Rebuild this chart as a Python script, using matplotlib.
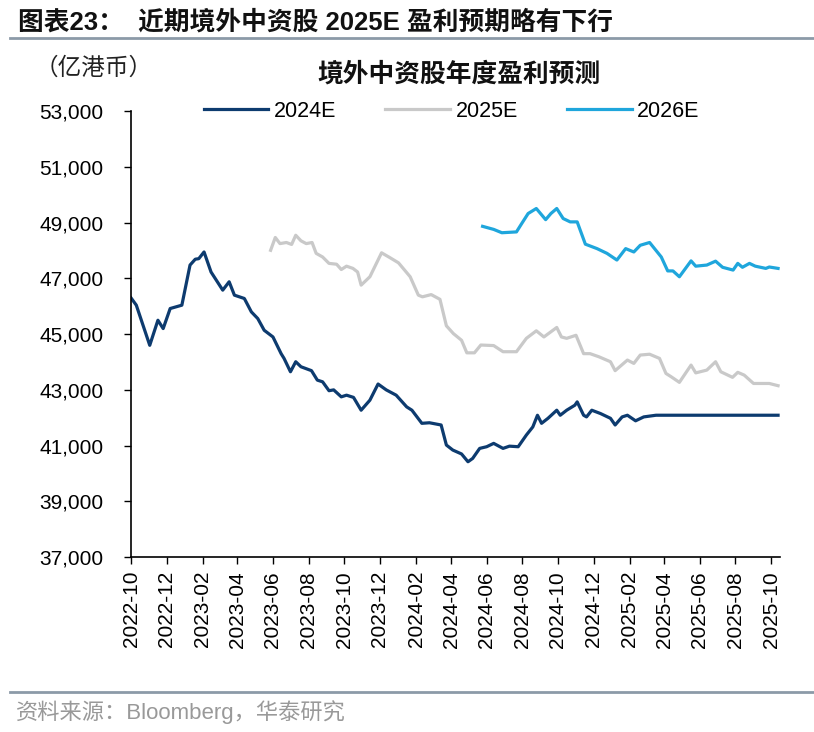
import numpy as np
import pandas as pd
import matplotlib
matplotlib.use("Agg")
import matplotlib.pyplot as plt
import matplotlib.dates as mdates
from matplotlib.ticker import FuncFormatter

plt.rcParams['font.family'] = ['Liberation Sans', 'Noto Sans CJK SC']

# 2024E 盈利预测 (亿港币)
d_2024 = ["2022-10-01", "2022-10-10", "2022-11-02", "2022-11-16", "2022-11-25", "2022-12-07",
          "2022-12-27", "2023-01-10", "2023-01-19", "2023-01-25", "2023-02-03", "2023-02-15",
          "2023-03-07", "2023-03-18", "2023-03-27", "2023-04-13", "2023-04-25", "2023-05-06",
          "2023-05-17", "2023-06-01", "2023-06-15", "2023-06-20", "2023-07-01", "2023-07-10",
          "2023-07-19", "2023-08-06", "2023-08-16", "2023-08-25", "2023-09-05", "2023-09-13",
          "2023-09-26", "2023-10-05", "2023-10-17", "2023-10-30", "2023-11-14", "2023-11-28",
          "2023-12-12", "2023-12-29", "2024-01-16", "2024-01-25", "2024-02-11", "2024-02-24",
          "2024-03-15", "2024-03-24", "2024-04-04", "2024-04-19", "2024-04-30", "2024-05-08",
          "2024-05-20", "2024-06-01", "2024-06-13", "2024-06-29", "2024-07-10", "2024-07-25",
          "2024-08-08", "2024-08-19", "2024-08-27", "2024-09-03", "2024-09-14", "2024-09-29",
          "2024-10-05", "2024-10-16", "2024-10-30", "2024-11-03", "2024-11-14", "2024-11-19",
          "2024-11-28", "2024-12-13", "2024-12-30", "2025-01-07", "2025-01-19", "2025-01-28",
          "2025-02-11", "2025-02-25", "2025-03-18", "2025-10-13"]
v_2024 = [46300, 46040, 44600, 45500, 45200, 45920,
          46040, 47480, 47690, 47710, 47950, 47230,
          46580, 46880, 46400, 46280, 45800, 45560,
          45140, 44900, 44300, 44130, 43650, 44010,
          43830, 43690, 43350, 43290, 42970, 43000,
          42750, 42810, 42730, 42270, 42630, 43210,
          43000, 42810, 42390, 42270, 41800, 41820,
          41740, 41020, 40840, 40700, 40420, 40540,
          40900, 40960, 41080, 40900, 40980, 40960,
          41380, 41670, 42090, 41800, 41980, 42270,
          42090, 42270, 42450, 42570, 42090, 42030,
          42270, 42150, 41980, 41740, 42030, 42090,
          41890, 42030, 42090, 42090]

# 2025E
d_2025 = ["2023-05-28", "2023-06-05", "2023-06-13", "2023-06-24", "2023-07-03", "2023-07-10",
          "2023-07-19", "2023-07-28", "2023-08-07", "2023-08-14", "2023-08-25", "2023-09-05",
          "2023-09-18", "2023-09-26", "2023-10-05", "2023-10-16", "2023-10-24", "2023-10-30",
          "2023-11-14", "2023-12-04", "2023-12-18", "2024-01-02", "2024-01-22", "2024-02-05",
          "2024-02-12", "2024-02-27", "2024-03-13", "2024-03-24", "2024-04-05", "2024-04-19",
          "2024-04-28", "2024-05-11", "2024-05-22", "2024-06-13", "2024-06-29", "2024-07-22",
          "2024-08-08", "2024-08-25", "2024-09-07", "2024-09-29", "2024-10-07", "2024-10-16",
          "2024-11-01", "2024-11-14", "2024-11-25", "2024-12-10", "2024-12-30", "2025-01-07",
          "2025-01-28", "2025-02-08", "2025-02-19", "2025-03-07", "2025-03-24", "2025-04-04",
          "2025-04-13", "2025-04-27", "2025-05-17", "2025-05-25", "2025-06-13", "2025-06-28",
          "2025-07-07", "2025-07-27", "2025-08-05", "2025-08-16", "2025-09-01", "2025-09-28",
          "2025-10-13"]
v_2025 = [48010, 48470, 48250, 48290, 48220, 48550,
          48350, 48250, 48290, 47900, 47770, 47540,
          47510, 47320, 47440, 47360, 47230, 46760,
          47060, 47920, 47750, 47560, 47060, 46400,
          46340, 46420, 46250, 45300, 45020, 44780,
          44330, 44330, 44610, 44590, 44370, 44370,
          44850, 45120, 44900, 45240, 44900, 44850,
          44960, 44300, 44300, 44190, 44010, 43690,
          44070, 43950, 44250, 44280, 44130, 43590,
          43470, 43270, 43890, 43610, 43710, 44010,
          43650, 43450, 43630, 43530, 43230, 43230,
          43150]

# 2026E
d_2026 = ["2024-05-25", "2024-06-13", "2024-06-27", "2024-07-22", "2024-07-31", "2024-08-11",
          "2024-08-25", "2024-09-10", "2024-09-19", "2024-09-29", "2024-10-10", "2024-10-22",
          "2024-11-03", "2024-11-17", "2024-12-07", "2024-12-24", "2025-01-10", "2025-01-25",
          "2025-02-08", "2025-02-19", "2025-03-07", "2025-03-27", "2025-04-07", "2025-04-16",
          "2025-04-27", "2025-05-17", "2025-05-25", "2025-06-13", "2025-06-28", "2025-07-10",
          "2025-07-28", "2025-08-05", "2025-08-13", "2025-08-25", "2025-09-04", "2025-09-22",
          "2025-09-28", "2025-10-13"]
v_2026 = [48870, 48760, 48640, 48670, 48970, 49330,
          49510, 49110, 49330, 49510, 49150, 49030,
          49030, 48230, 48070, 47900, 47660, 48070,
          47950, 48190, 48290, 47770, 47270, 47270,
          47060, 47630, 47440, 47480, 47620, 47400,
          47300, 47540, 47400, 47540, 47440, 47360,
          47410, 47360]

fig = plt.figure(figsize=(8.14, 7.32), dpi=100)
ax = fig.add_axes([0.161, 0.239, 0.797, 0.609])

ax.plot(pd.to_datetime(d_2024), v_2024, color='#0d3b6f', lw=2.3, label='2024E')
ax.plot(pd.to_datetime(d_2025), v_2025, color='#c9c9c9', lw=2.3, label='2025E')
ax.plot(pd.to_datetime(d_2026), v_2026, color='#1fa6dc', lw=2.3, label='2026E')

ax.set_ylim(37000, 53000)
ax.set_yticks(np.arange(37000, 53001, 2000))
ax.yaxis.set_major_formatter(FuncFormatter(lambda v, p: f"{int(v):,}"))
ax.set_xlim(pd.Timestamp("2022-10-01"), pd.Timestamp("2025-10-16"))
ax.set_xticks(pd.date_range("2022-10-01", "2025-10-01", freq="2MS"))
ax.xaxis.set_major_formatter(mdates.DateFormatter('%Y-%m'))
ax.tick_params(axis='both', labelsize=15, length=5, width=1, color='black')
ax.tick_params(axis='y', pad=15)
ax.tick_params(axis='x', rotation=90, pad=5)
for s in ['top', 'right']:
    ax.spines[s].set_visible(False)
ax.spines['left'].set_linewidth(1.2)
ax.spines['bottom'].set_linewidth(1.2)

ax.legend(loc='center', bbox_to_anchor=(0.494, 1.0), ncol=3, frameon=False, fontsize=15.5,
          handlelength=3.0, handletextpad=0.25, columnspacing=2.3)

# 标题和注释
fig.text(0.022, 0.969, "图表23：  近期境外中资股 2025E 盈利预期略有下行", fontsize=18.5,
         fontweight='bold', ha='left', va='center', color='#111111')
fig.add_artist(plt.Line2D([0.012, 1.0], [0.948, 0.948], color='#8c9aa8', lw=2))
fig.text(0.564, 0.898, "境外中资股年度盈利预测", fontsize=18.5, fontweight='bold',
         ha='center', va='center', color='#111111')
fig.text(0.043, 0.906, "（亿港币）", fontsize=17, ha='left', va='center', color='#222222')
fig.add_artist(plt.Line2D([0.012, 1.0], [0.055, 0.055], color='#8c9aa8', lw=2))
fig.text(0.02, 0.027, "资料来源：Bloomberg，华泰研究", fontsize=16, ha='left', va='center',
         color='#999999')

fig.savefig("out.png", dpi=100)
